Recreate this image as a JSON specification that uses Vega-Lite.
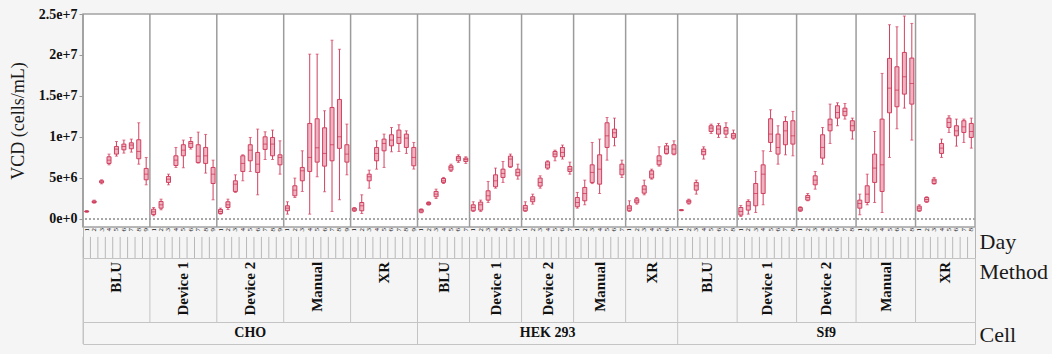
{
"$schema": "https://vega.github.io/schema/vega-lite/v6.json",
"background": "#f5f5f5",
"padding": {"left": 5, "top": 6, "right": 4, "bottom": 11},
"datasets": {"vcd": [
{"c":"CHO","m":"BLU","d":1,"lo":0.80,"q1":0.85,"md":0.90,"q3":0.95,"hi":1.00},
{"c":"CHO","m":"BLU","d":2,"lo":1.91,"q1":1.98,"md":2.08,"q3":2.18,"hi":2.28},
{"c":"CHO","m":"BLU","d":3,"lo":4.27,"q1":4.40,"md":4.52,"q3":4.65,"hi":4.76},
{"c":"CHO","m":"BLU","d":4,"lo":6.59,"q1":6.76,"md":7.16,"q3":7.57,"hi":7.90},
{"c":"CHO","m":"BLU","d":5,"lo":7.65,"q1":7.90,"md":8.51,"q3":8.83,"hi":9.44},
{"c":"CHO","m":"BLU","d":6,"lo":8.02,"q1":8.42,"md":8.83,"q3":9.12,"hi":9.61},
{"c":"CHO","m":"BLU","d":7,"lo":8.14,"q1":8.55,"md":9.00,"q3":9.28,"hi":9.73},
{"c":"CHO","m":"BLU","d":8,"lo":6.67,"q1":7.33,"md":8.22,"q3":9.65,"hi":11.72},
{"c":"CHO","m":"BLU","d":9,"lo":4.15,"q1":4.76,"md":5.45,"q3":6.15,"hi":7.49},
{"c":"CHO","m":"Device 1","d":1,"lo":0.37,"q1":0.53,"md":0.85,"q3":1.18,"hi":1.38},
{"c":"CHO","m":"Device 1","d":2,"lo":1.10,"q1":1.30,"md":1.71,"q3":2.12,"hi":2.40},
{"c":"CHO","m":"Device 1","d":3,"lo":4.15,"q1":4.44,"md":4.84,"q3":5.17,"hi":5.45},
{"c":"CHO","m":"Device 1","d":4,"lo":6.27,"q1":6.51,"md":7.16,"q3":7.69,"hi":8.71},
{"c":"CHO","m":"Device 1","d":5,"lo":6.23,"q1":7.69,"md":8.38,"q3":9.04,"hi":9.61},
{"c":"CHO","m":"Device 1","d":6,"lo":8.51,"q1":8.71,"md":9.20,"q3":9.44,"hi":9.93},
{"c":"CHO","m":"Device 1","d":7,"lo":6.80,"q1":6.88,"md":7.65,"q3":9.04,"hi":10.58},
{"c":"CHO","m":"Device 1","d":8,"lo":5.58,"q1":6.76,"md":7.69,"q3":8.71,"hi":10.30},
{"c":"CHO","m":"Device 1","d":9,"lo":2.32,"q1":4.31,"md":5.45,"q3":6.27,"hi":7.16},
{"c":"CHO","m":"Device 2","d":1,"lo":0.57,"q1":0.65,"md":0.90,"q3":1.14,"hi":1.30},
{"c":"CHO","m":"Device 2","d":2,"lo":1.14,"q1":1.38,"md":1.71,"q3":2.08,"hi":2.40},
{"c":"CHO","m":"Device 2","d":3,"lo":3.22,"q1":3.34,"md":4.23,"q3":4.64,"hi":5.37},
{"c":"CHO","m":"Device 2","d":4,"lo":4.64,"q1":5.78,"md":6.76,"q3":7.69,"hi":7.81},
{"c":"CHO","m":"Device 2","d":5,"lo":5.78,"q1":7.08,"md":8.38,"q3":9.04,"hi":9.93},
{"c":"CHO","m":"Device 2","d":6,"lo":2.93,"q1":5.66,"md":6.67,"q3":8.10,"hi":10.95},
{"c":"CHO","m":"Device 2","d":7,"lo":7.24,"q1":8.47,"md":9.12,"q3":10.01,"hi":10.62},
{"c":"CHO","m":"Device 2","d":8,"lo":7.24,"q1":7.69,"md":9.12,"q3":9.93,"hi":10.83},
{"c":"CHO","m":"Device 2","d":9,"lo":5.45,"q1":6.59,"md":7.49,"q3":7.81,"hi":9.52},
{"c":"CHO","m":"Manual","d":1,"lo":0.57,"q1":0.98,"md":1.30,"q3":1.59,"hi":2.08},
{"c":"CHO","m":"Manual","d":2,"lo":2.60,"q1":2.81,"md":3.50,"q3":4.03,"hi":4.97},
{"c":"CHO","m":"Manual","d":3,"lo":3.34,"q1":4.64,"md":5.86,"q3":6.27,"hi":8.30},
{"c":"CHO","m":"Manual","d":4,"lo":0.57,"q1":5.78,"md":7.49,"q3":11.64,"hi":20.10},
{"c":"CHO","m":"Manual","d":5,"lo":5.13,"q1":6.92,"md":8.67,"q3":12.21,"hi":20.10},
{"c":"CHO","m":"Manual","d":6,"lo":3.30,"q1":6.43,"md":7.98,"q3":11.11,"hi":13.19},
{"c":"CHO","m":"Manual","d":7,"lo":0.90,"q1":7.08,"md":9.04,"q3":13.59,"hi":21.80},
{"c":"CHO","m":"Manual","d":8,"lo":2.32,"q1":8.60,"md":10.01,"q3":14.57,"hi":20.70},
{"c":"CHO","m":"Manual","d":9,"lo":5.37,"q1":6.92,"md":7.90,"q3":9.04,"hi":11.56},
{"c":"CHO","m":"XR","d":1,"lo":0.90,"q1":0.98,"md":1.18,"q3":1.30,"hi":1.38},
{"c":"CHO","m":"XR","d":2,"lo":0.65,"q1":0.98,"md":1.59,"q3":1.99,"hi":2.93},
{"c":"CHO","m":"XR","d":3,"lo":3.74,"q1":4.64,"md":5.13,"q3":5.45,"hi":5.94},
{"c":"CHO","m":"XR","d":4,"lo":6.06,"q1":7.08,"md":7.98,"q3":8.71,"hi":9.52},
{"c":"CHO","m":"XR","d":5,"lo":6.27,"q1":8.30,"md":9.20,"q3":9.73,"hi":10.34},
{"c":"CHO","m":"XR","d":6,"lo":8.18,"q1":8.91,"md":9.61,"q3":10.26,"hi":11.15},
{"c":"CHO","m":"XR","d":7,"lo":8.22,"q1":9.20,"md":9.93,"q3":10.83,"hi":11.48},
{"c":"CHO","m":"XR","d":8,"lo":7.98,"q1":8.71,"md":9.85,"q3":10.34,"hi":10.74},
{"c":"CHO","m":"XR","d":9,"lo":6.07,"q1":6.47,"md":7.49,"q3":8.71,"hi":9.32},
{"c":"HEK 293","m":"BLU","d":1,"lo":0.73,"q1":0.81,"md":0.98,"q3":1.14,"hi":1.22},
{"c":"HEK 293","m":"BLU","d":2,"lo":1.67,"q1":1.75,"md":1.87,"q3":1.99,"hi":2.08},
{"c":"HEK 293","m":"BLU","d":3,"lo":2.48,"q1":2.69,"md":3.01,"q3":3.34,"hi":3.62},
{"c":"HEK 293","m":"BLU","d":4,"lo":4.31,"q1":4.44,"md":4.64,"q3":4.92,"hi":5.05},
{"c":"HEK 293","m":"BLU","d":5,"lo":5.78,"q1":5.94,"md":6.27,"q3":6.47,"hi":6.67},
{"c":"HEK 293","m":"BLU","d":6,"lo":6.88,"q1":7.08,"md":7.41,"q3":7.61,"hi":7.81},
{"c":"HEK 293","m":"BLU","d":7,"lo":6.76,"q1":7.00,"md":7.24,"q3":7.41,"hi":7.57},
{"c":"HEK 293","m":"Device 1","d":1,"lo":0.90,"q1":0.98,"md":1.38,"q3":1.71,"hi":2.08},
{"c":"HEK 293","m":"Device 1","d":2,"lo":0.90,"q1":1.06,"md":1.71,"q3":2.04,"hi":2.28},
{"c":"HEK 293","m":"Device 1","d":3,"lo":2.00,"q1":2.28,"md":2.81,"q3":3.42,"hi":4.56},
{"c":"HEK 293","m":"Device 1","d":4,"lo":3.74,"q1":3.91,"md":4.64,"q3":5.37,"hi":6.19},
{"c":"HEK 293","m":"Device 1","d":5,"lo":4.44,"q1":5.05,"md":5.54,"q3":6.06,"hi":7.00},
{"c":"HEK 293","m":"Device 1","d":6,"lo":6.27,"q1":6.35,"md":7.29,"q3":7.65,"hi":7.90},
{"c":"HEK 293","m":"Device 1","d":7,"lo":4.84,"q1":5.25,"md":5.66,"q3":6.06,"hi":6.67},
{"c":"HEK 293","m":"Device 2","d":1,"lo":0.90,"q1":0.98,"md":1.30,"q3":1.63,"hi":2.08},
{"c":"HEK 293","m":"Device 2","d":2,"lo":1.79,"q1":2.08,"md":2.40,"q3":2.69,"hi":3.01},
{"c":"HEK 293","m":"Device 2","d":3,"lo":3.74,"q1":3.99,"md":4.44,"q3":4.97,"hi":5.25},
{"c":"HEK 293","m":"Device 2","d":4,"lo":6.06,"q1":6.19,"md":6.59,"q3":6.96,"hi":7.08},
{"c":"HEK 293","m":"Device 2","d":5,"lo":7.08,"q1":7.57,"md":7.90,"q3":8.22,"hi":8.38},
{"c":"HEK 293","m":"Device 2","d":6,"lo":7.29,"q1":7.57,"md":8.10,"q3":8.71,"hi":9.00},
{"c":"HEK 293","m":"Device 2","d":7,"lo":5.45,"q1":5.78,"md":6.06,"q3":6.39,"hi":6.92},
{"c":"HEK 293","m":"Manual","d":1,"lo":1.30,"q1":1.47,"md":1.99,"q3":2.60,"hi":3.22},
{"c":"HEK 293","m":"Manual","d":2,"lo":1.71,"q1":2.20,"md":3.09,"q3":3.83,"hi":4.72},
{"c":"HEK 293","m":"Manual","d":3,"lo":4.30,"q1":4.44,"md":5.66,"q3":6.59,"hi":9.32},
{"c":"HEK 293","m":"Manual","d":4,"lo":3.09,"q1":4.23,"md":6.06,"q3":7.81,"hi":9.73},
{"c":"HEK 293","m":"Manual","d":5,"lo":7.16,"q1":8.71,"md":10.13,"q3":11.72,"hi":12.37},
{"c":"HEK 293","m":"Manual","d":6,"lo":8.91,"q1":9.93,"md":10.50,"q3":10.95,"hi":12.29},
{"c":"HEK 293","m":"Manual","d":7,"lo":5.05,"q1":5.37,"md":6.06,"q3":6.67,"hi":7.16},
{"c":"HEK 293","m":"XR","d":1,"lo":0.90,"q1":0.98,"md":1.30,"q3":1.59,"hi":2.20},
{"c":"HEK 293","m":"XR","d":2,"lo":1.79,"q1":1.95,"md":2.20,"q3":2.44,"hi":2.60},
{"c":"HEK 293","m":"XR","d":3,"lo":2.93,"q1":3.13,"md":3.62,"q3":4.03,"hi":4.72},
{"c":"HEK 293","m":"XR","d":4,"lo":4.84,"q1":4.97,"md":5.45,"q3":5.86,"hi":6.06},
{"c":"HEK 293","m":"XR","d":5,"lo":6.43,"q1":6.59,"md":7.08,"q3":7.69,"hi":8.79},
{"c":"HEK 293","m":"XR","d":6,"lo":7.90,"q1":7.98,"md":8.51,"q3":8.91,"hi":9.20},
{"c":"HEK 293","m":"XR","d":7,"lo":7.81,"q1":7.90,"md":8.51,"q3":9.04,"hi":9.52},
{"c":"Sf9","m":"BLU","d":1,"lo":0.98,"q1":1.02,"md":1.06,"q3":1.10,"hi":1.14},
{"c":"Sf9","m":"BLU","d":2,"lo":1.79,"q1":1.91,"md":2.12,"q3":2.28,"hi":2.40},
{"c":"Sf9","m":"BLU","d":3,"lo":3.01,"q1":3.50,"md":4.03,"q3":4.44,"hi":4.72},
{"c":"Sf9","m":"BLU","d":4,"lo":7.29,"q1":7.81,"md":8.22,"q3":8.51,"hi":8.79},
{"c":"Sf9","m":"BLU","d":5,"lo":10.42,"q1":10.66,"md":11.07,"q3":11.36,"hi":11.56},
{"c":"Sf9","m":"BLU","d":6,"lo":9.93,"q1":10.34,"md":10.95,"q3":11.36,"hi":11.64},
{"c":"Sf9","m":"BLU","d":7,"lo":9.93,"q1":10.34,"md":10.74,"q3":11.15,"hi":11.72},
{"c":"Sf9","m":"BLU","d":8,"lo":9.73,"q1":9.85,"md":10.13,"q3":10.42,"hi":10.83},
{"c":"Sf9","m":"Device 1","d":1,"lo":0.29,"q1":0.45,"md":0.90,"q3":1.38,"hi":1.63},
{"c":"Sf9","m":"Device 1","d":2,"lo":0.57,"q1":1.06,"md":1.59,"q3":2.12,"hi":2.32},
{"c":"Sf9","m":"Device 1","d":3,"lo":0.77,"q1":1.59,"md":3.09,"q3":4.31,"hi":5.78},
{"c":"Sf9","m":"Device 1","d":4,"lo":1.71,"q1":3.09,"md":5.45,"q3":6.59,"hi":8.30},
{"c":"Sf9","m":"Device 1","d":5,"lo":8.22,"q1":9.32,"md":10.34,"q3":12.21,"hi":13.31},
{"c":"Sf9","m":"Device 1","d":6,"lo":6.67,"q1":7.90,"md":8.71,"q3":10.34,"hi":11.36},
{"c":"Sf9","m":"Device 1","d":7,"lo":7.81,"q1":9.04,"md":10.74,"q3":11.88,"hi":12.45},
{"c":"Sf9","m":"Device 1","d":8,"lo":7.69,"q1":9.12,"md":10.13,"q3":11.97,"hi":13.11},
{"c":"Sf9","m":"Device 2","d":1,"lo":0.90,"q1":0.98,"md":1.18,"q3":1.38,"hi":1.47},
{"c":"Sf9","m":"Device 2","d":2,"lo":2.20,"q1":2.28,"md":2.60,"q3":2.85,"hi":3.09},
{"c":"Sf9","m":"Device 2","d":3,"lo":3.62,"q1":4.15,"md":4.72,"q3":5.25,"hi":5.78},
{"c":"Sf9","m":"Device 2","d":4,"lo":6.67,"q1":7.41,"md":8.71,"q3":10.26,"hi":11.15},
{"c":"Sf9","m":"Device 2","d":5,"lo":9.20,"q1":10.74,"md":11.48,"q3":12.17,"hi":14.00},
{"c":"Sf9","m":"Device 2","d":6,"lo":11.36,"q1":12.29,"md":12.98,"q3":13.80,"hi":14.16},
{"c":"Sf9","m":"Device 2","d":7,"lo":12.17,"q1":12.58,"md":13.11,"q3":13.51,"hi":14.08},
{"c":"Sf9","m":"Device 2","d":8,"lo":9.73,"q1":10.74,"md":11.36,"q3":11.97,"hi":12.29},
{"c":"Sf9","m":"Manual","d":1,"lo":0.49,"q1":1.30,"md":1.87,"q3":2.28,"hi":3.01},
{"c":"Sf9","m":"Manual","d":2,"lo":1.71,"q1":1.99,"md":3.01,"q3":4.03,"hi":5.45},
{"c":"Sf9","m":"Manual","d":3,"lo":1.99,"q1":4.44,"md":6.19,"q3":7.90,"hi":10.66},
{"c":"Sf9","m":"Manual","d":4,"lo":0.77,"q1":3.34,"md":6.59,"q3":12.17,"hi":17.75},
{"c":"Sf9","m":"Manual","d":5,"lo":7.49,"q1":12.94,"md":15.95,"q3":19.58,"hi":23.69},
{"c":"Sf9","m":"Manual","d":6,"lo":10.99,"q1":13.68,"md":15.71,"q3":18.56,"hi":23.44},
{"c":"Sf9","m":"Manual","d":7,"lo":13.51,"q1":15.22,"md":17.34,"q3":20.31,"hi":24.75},
{"c":"Sf9","m":"Manual","d":8,"lo":9.61,"q1":14.00,"md":16.52,"q3":19.62,"hi":23.85},
{"c":"Sf9","m":"XR","d":1,"lo":0.90,"q1":0.98,"md":1.30,"q3":1.55,"hi":1.71},
{"c":"Sf9","m":"XR","d":2,"lo":2.00,"q1":2.08,"md":2.36,"q3":2.60,"hi":2.69},
{"c":"Sf9","m":"XR","d":3,"lo":4.23,"q1":4.31,"md":4.64,"q3":4.84,"hi":5.05},
{"c":"Sf9","m":"XR","d":4,"lo":7.49,"q1":7.98,"md":8.63,"q3":9.20,"hi":9.73},
{"c":"Sf9","m":"XR","d":5,"lo":10.54,"q1":11.15,"md":11.76,"q3":12.29,"hi":12.58},
{"c":"Sf9","m":"XR","d":6,"lo":8.87,"q1":10.13,"md":10.74,"q3":11.36,"hi":12.17},
{"c":"Sf9","m":"XR","d":7,"lo":9.32,"q1":10.54,"md":11.23,"q3":11.97,"hi":12.17},
{"c":"Sf9","m":"XR","d":8,"lo":8.63,"q1":9.93,"md":10.66,"q3":11.64,"hi":12.29}
]},
"data": {"name": "vcd"},
"transform": [{"calculate": "datum.c + '|' + datum.m + '|' + datum.d", "as": "k"}],
"spacing": 0,
"bounds": "flush",
"resolve": {"scale": {"x": "shared", "y": "independent"}, "axis": {"x": "independent", "y": "independent"}},
"config": {
  "scale": {"bandPaddingInner": 0, "bandPaddingOuter": 0},
  "font": "Liberation Serif"
},
"vconcat": [
{
  "width": 892, "height": 213,
  "view": {"fill": "white", "stroke": "#a3a3a3", "strokeWidth": 1.5},
  "layer": [
    {"mark": {"type": "rule", "color": "#a8a8a8", "strokeDash": [2, 2], "strokeWidth": 1},
     "encoding": {"y": {"datum": 0, "type": "quantitative", "title": "VCD (cells/mL)"}}},
    {"transform": [{"filter": "datum.d == 1"}],
     "mark": {"type": "rule", "color": "#9c9c9c", "strokeWidth": 1.5},
     "encoding": {"x": {"field": "k", "type": "nominal", "bandPosition": 0, "scale": {"type": "band"}, "axis": null}}},
    {"mark": {"type": "rule", "color": "#d0405f", "strokeWidth": 1},
     "encoding": {
       "x": {"field": "k", "type": "nominal", "scale": {"type": "band"}, "axis": null},
       "y": {"field": "lo", "type": "quantitative", "title": "VCD (cells/mL)",
             "scale": {"domain": [-1, 25], "nice": false, "zero": false},
             "axis": {"values": [0, 5, 10, 15, 20, 25],
                      "labelExpr": "format(datum.value * 1000000, '~e')",
                      "tickSize": 4, "tickColor": "#9a9a9a", "domain": false, "grid": false,
                      "labelFont": "Liberation Serif", "labelFontWeight": "bold", "labelFontSize": 14, "labelColor": "#111",
                      "labelPadding": 2, "labelOverlap": false, "labelFlush": false, "labelBound": false,
                      "titleFont": "Liberation Serif", "titleFontWeight": "normal", "titleFontSize": 18, "titleColor": "#1a1a1a",
                      "titleX": -65, "titleBaseline": "middle", "minExtent": 77, "maxExtent": 77}},
       "y2": {"field": "hi"}}},
    {"mark": {"type": "tick", "color": "#d0405f", "size": 3, "thickness": 1},
     "encoding": {
       "x": {"field": "k", "type": "nominal", "scale": {"type": "band"}, "axis": null},
       "y": {"field": "lo", "type": "quantitative", "title": "VCD (cells/mL)"}}},
    {"mark": {"type": "tick", "color": "#d0405f", "size": 3, "thickness": 1},
     "encoding": {
       "x": {"field": "k", "type": "nominal", "scale": {"type": "band"}, "axis": null},
       "y": {"field": "hi", "type": "quantitative", "title": "VCD (cells/mL)"}}},
    {"mark": {"type": "bar", "width": 4, "fill": "#efb2c0", "stroke": "#d0405f", "strokeWidth": 1},
     "encoding": {
       "x": {"field": "k", "type": "nominal", "scale": {"type": "band"}, "axis": null},
       "y": {"field": "q1", "type": "quantitative", "title": "VCD (cells/mL)"},
       "y2": {"field": "q3"}}},
    {"mark": {"type": "tick", "color": "#c8304f", "size": 4, "thickness": 1},
     "encoding": {
       "x": {"field": "k", "type": "nominal", "scale": {"type": "band"}, "axis": null},
       "y": {"field": "md", "type": "quantitative", "title": "VCD (cells/mL)"}}}
  ]
},
{
  "width": 892, "height": 31,
  "view": {"stroke": "#b5b5b5", "strokeWidth": 1},
  "layer": [
    {"mark": {"type": "rule", "color": "#b8b8b8", "strokeWidth": 1},
     "encoding": {
       "x": {"field": "k", "type": "nominal", "bandPosition": 0, "scale": {"type": "band"}, "axis": null},
       "y": {"datum": 0, "type": "quantitative", "scale": {"domain": [0, 1]},
             "axis": {"orient": "right", "title": "Day", "labels": false, "ticks": false, "domain": false, "grid": false,
                      "titleAngle": 0, "titleAlign": "left", "titleBaseline": "alphabetic", "titleX": 4, "titleY": 21,
                      "titleFont": "Liberation Serif", "titleFontSize": 22, "titleFontWeight": "normal", "titleColor": "#1a1a1a"}},
       "y2": {"datum": 0.68}}},
    {"mark": {"type": "text", "angle": 270, "align": "right", "baseline": "middle", "fontSize": 7, "font": "Liberation Serif", "color": "#111"},
     "encoding": {
       "x": {"field": "k", "type": "nominal", "scale": {"type": "band"}, "axis": null},
       "y": {"datum": 0.97, "type": "quantitative"},
       "text": {"field": "d"}}}
  ]
},
{
  "width": 892, "height": 64,
  "view": {"stroke": "#c4c4c4", "strokeWidth": 1},
  "layer": [
    {"transform": [{"filter": "datum.d == 1"}],
     "mark": {"type": "rule", "color": "#c4c4c4", "strokeWidth": 1},
     "encoding": {"x": {"field": "k", "type": "nominal", "bandPosition": 0, "scale": {"type": "band"}, "axis": null}}},
    {"transform": [{"filter": "(datum.c == 'CHO' && datum.d == 5) || (datum.c == 'HEK 293' && datum.d == 4)"}],
     "mark": {"type": "text", "angle": 270, "align": "right", "baseline": "middle", "fontSize": 15, "fontWeight": "bold", "font": "Liberation Serif", "color": "#111"},
     "encoding": {
       "x": {"field": "k", "type": "nominal", "scale": {"type": "band"}, "axis": null},
       "y": {"datum": 0.94, "type": "quantitative", "scale": {"domain": [0, 1]},
             "axis": {"orient": "right", "title": "Method", "labels": false, "ticks": false, "domain": false, "grid": false,
                      "titleAngle": 0, "titleAlign": "left", "titleBaseline": "alphabetic", "titleX": 4, "titleY": 20,
                      "titleFont": "Liberation Serif", "titleFontSize": 22, "titleFontWeight": "normal", "titleColor": "#1a1a1a"}},
       "text": {"field": "m"}}},
    {"transform": [{"filter": "datum.c == 'Sf9' && datum.d == 5"}],
     "mark": {"type": "text", "angle": 270, "align": "right", "baseline": "middle", "fontSize": 15, "fontWeight": "bold", "font": "Liberation Serif", "color": "#111"},
     "encoding": {
       "x": {"field": "k", "type": "nominal", "bandPosition": 0, "scale": {"type": "band"}, "axis": null},
       "y": {"datum": 0.94, "type": "quantitative"},
       "text": {"field": "m"}}}
  ]
},
{
  "width": 892, "height": 22,
  "view": {"stroke": "#c4c4c4", "strokeWidth": 1},
  "layer": [
    {"transform": [{"filter": "datum.d == 1 && datum.m == 'BLU'"}],
     "mark": {"type": "rule", "color": "#c4c4c4", "strokeWidth": 1},
     "encoding": {"x": {"field": "k", "type": "nominal", "bandPosition": 0, "scale": {"type": "band"}, "axis": null}}},
    {"transform": [{"filter": "datum.m == 'Device 2' && ((datum.c == 'CHO' && datum.d == 5) || (datum.c == 'HEK 293' && datum.d == 4))"}],
     "mark": {"type": "text", "align": "center", "baseline": "middle", "fontSize": 14, "fontWeight": "bold", "font": "Liberation Serif", "color": "#111"},
     "encoding": {
       "x": {"field": "k", "type": "nominal", "scale": {"type": "band"}, "axis": null},
       "y": {"datum": 0.5, "type": "quantitative", "scale": {"domain": [0, 1]},
             "axis": {"orient": "right", "title": "Cell", "labels": false, "ticks": false, "domain": false, "grid": false,
                      "titleAngle": 0, "titleAlign": "left", "titleBaseline": "alphabetic", "titleX": 4, "titleY": 19.5,
                      "titleFont": "Liberation Serif", "titleFontSize": 22, "titleFontWeight": "normal", "titleColor": "#1a1a1a"}},
       "text": {"field": "c"}}},
    {"transform": [{"filter": "datum.m == 'Device 2' && datum.c == 'Sf9' && datum.d == 5"}],
     "mark": {"type": "text", "align": "center", "baseline": "middle", "fontSize": 14, "fontWeight": "bold", "font": "Liberation Serif", "color": "#111"},
     "encoding": {
       "x": {"field": "k", "type": "nominal", "bandPosition": 0, "scale": {"type": "band"}, "axis": null},
       "y": {"datum": 0.5, "type": "quantitative"},
       "text": {"field": "c"}}}
  ]
}
]
}
